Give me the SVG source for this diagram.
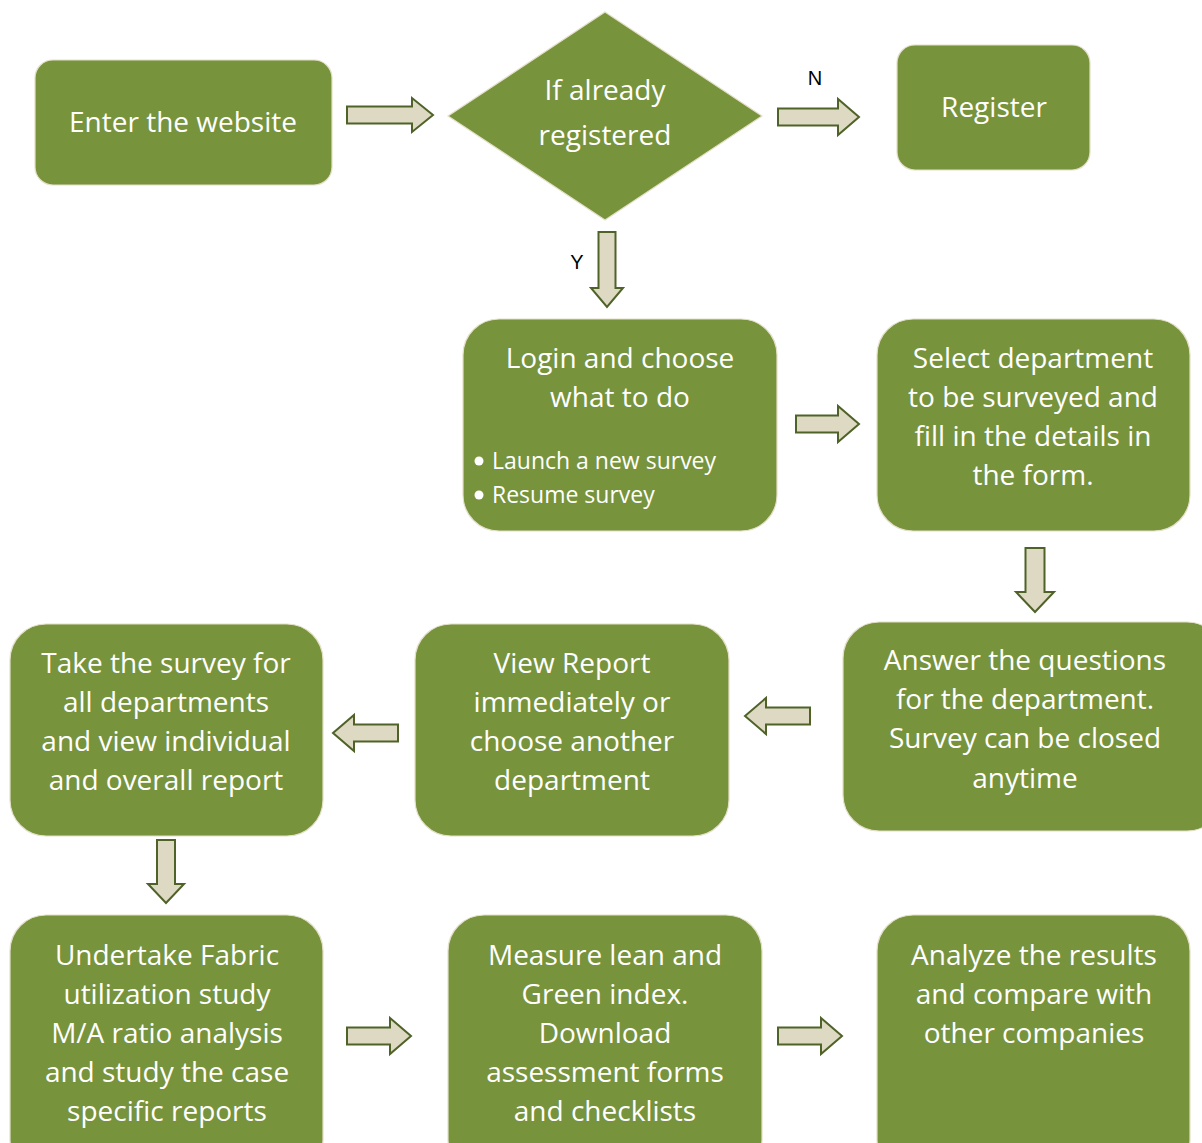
<svg xmlns="http://www.w3.org/2000/svg" width="1202" height="1143" viewBox="0 0 1202 1143">
<style>
.box{fill:#77933C;stroke:#E4DFC9;stroke-width:1.2}
.t{font-family:"Open Sans","Liberation Sans",sans-serif;font-size:28px;fill:#FFFFFF;text-anchor:middle}
.b{font-family:"Open Sans","Liberation Sans",sans-serif;font-size:23px;fill:#FFFFFF}
.arr{fill:#DDD9C3;stroke:#4F6228;stroke-width:2;stroke-linejoin:miter}
.lbl{font-family:"Liberation Sans",sans-serif;font-size:20px;fill:#000000;text-anchor:middle}
</style>
<rect width="1202" height="1143" fill="#FFFFFF"/>
<g id="n-enter"><rect class="box" x="35" y="60" width="297" height="125" rx="18"/><text class="t" x="183" y="132">Enter the website</text></g>
<g id="n-decision"><polygon class="box" points="605,12 762,116 605,220 448,116"/><text class="t" x="605" y="100">If already</text><text class="t" x="605" y="145">registered</text></g>
<g id="n-register"><rect class="box" x="897" y="45" width="193" height="125" rx="18"/><text class="t" x="994" y="117">Register</text></g>
<g id="n-login"><rect class="box" x="463" y="319" width="314" height="212" rx="36"/><text class="t" x="620" y="368">Login and choose</text><text class="t" x="620" y="407">what to do</text><circle cx="479" cy="461" r="4.5" fill="#FFFFFF"/><text class="b" x="492" y="469">Launch a new survey</text><circle cx="479" cy="495" r="4.5" fill="#FFFFFF"/><text class="b" x="492" y="503">Resume survey</text></g>
<g id="n-select"><rect class="box" x="877" y="319" width="313" height="212" rx="36"/><text class="t" x="1033" y="368">Select department</text><text class="t" x="1033" y="407">to be surveyed and</text><text class="t" x="1033" y="446">fill in the details in</text><text class="t" x="1033" y="485">the form.</text></g>
<g id="n-answer"><rect class="box" x="843" y="622" width="380" height="209" rx="36"/><text class="t" x="1025" y="670">Answer the questions</text><text class="t" x="1025" y="709">for the department.</text><text class="t" x="1025" y="748">Survey can be closed</text><text class="t" x="1025" y="788">anytime</text></g>
<g id="n-view"><rect class="box" x="415" y="624" width="314" height="212" rx="36"/><text class="t" x="572" y="673">View Report</text><text class="t" x="572" y="712">immediately or</text><text class="t" x="572" y="751">choose another</text><text class="t" x="572" y="790">department</text></g>
<g id="n-take"><rect class="box" x="10" y="624" width="313" height="212" rx="36"/><text class="t" x="166" y="673">Take the survey for</text><text class="t" x="166" y="712">all departments</text><text class="t" x="166" y="751">and view individual</text><text class="t" x="166" y="790">and overall report</text></g>
<g id="n-undertake"><rect class="box" x="10" y="915" width="313" height="260" rx="36"/><text class="t" x="167" y="965">Undertake Fabric</text><text class="t" x="167" y="1004">utilization study</text><text class="t" x="167" y="1043">M/A ratio analysis</text><text class="t" x="167" y="1082">and study the case</text><text class="t" x="167" y="1121">specific reports</text></g>
<g id="n-measure"><rect class="box" x="448" y="915" width="314" height="260" rx="36"/><text class="t" x="605" y="965">Measure lean and</text><text class="t" x="605" y="1004">Green index.</text><text class="t" x="605" y="1043">Download</text><text class="t" x="605" y="1082">assessment forms</text><text class="t" x="605" y="1121">and checklists</text></g>
<g id="n-analyze"><rect class="box" x="877" y="915" width="313" height="260" rx="36"/><text class="t" x="1034" y="965">Analyze the results</text><text class="t" x="1034" y="1004">and compare with</text><text class="t" x="1034" y="1043">other companies</text></g>
<g id="connectors">
<path class="arr" d="M347,106.5 H412 V98 L433,115 L412,132 V123.5 H347 Z"/>
<path class="arr" d="M778,108.5 H838 V99 L859,117 L838,135 V125.5 H778 Z"/>
<path class="arr" d="M598.5,232 H615.5 V288 H623 L607,307 L591,288 H598.5 Z"/>
<path class="arr" d="M796,415.5 H838 V406 L859,424 L838,442 V432.5 H796 Z"/>
<path class="arr" d="M1025.5,548 H1044.5 V592 H1054 L1035,612 L1016,592 H1025.5 Z"/>
<path class="arr" d="M810,707.5 H766 V698 L745,716 L766,734 V724.5 H810 Z"/>
<path class="arr" d="M398,724.5 H354 V715 L333,733 L354,751 V741.5 H398 Z"/>
<path class="arr" d="M157,840 H175 V884 H184 L166,903 L148,884 H157 Z"/>
<path class="arr" d="M347,1027.5 H390 V1018 L411,1036 L390,1054 V1044.5 H347 Z"/>
<path class="arr" d="M778,1027.5 H821 V1018 L842,1036 L821,1054 V1044.5 H778 Z"/>
<text class="lbl" x="815" y="85">N</text>
<text class="lbl" x="577" y="269">Y</text>
</g>
</svg>
